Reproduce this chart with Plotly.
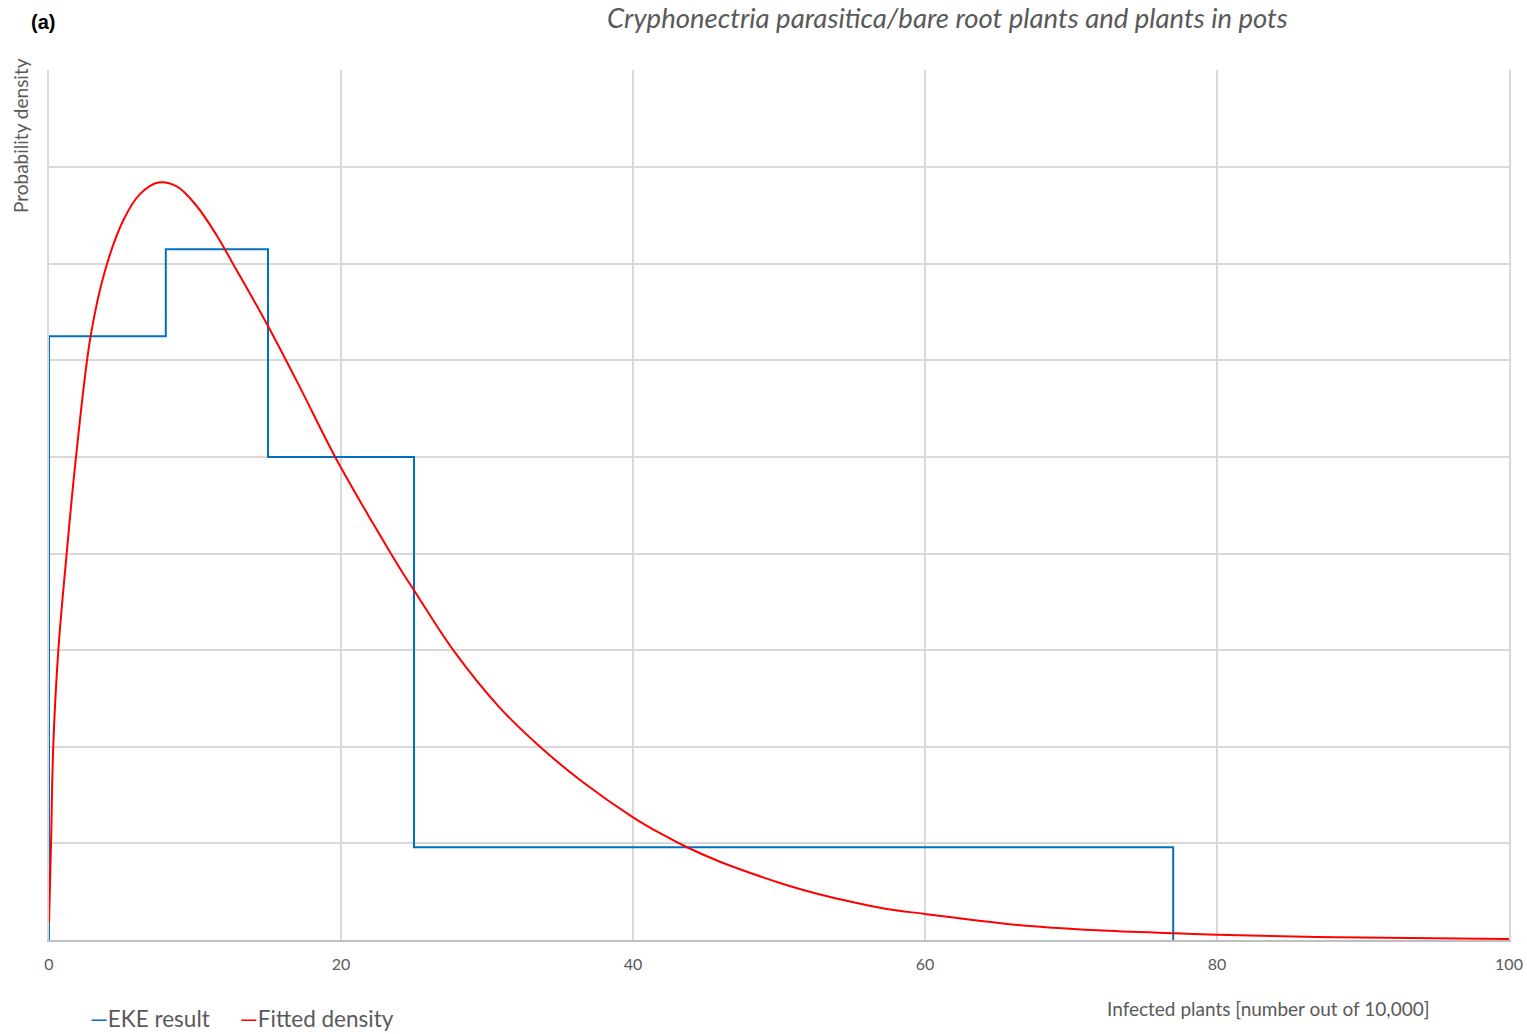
import plotly.graph_objects as go

# EKE result (step histogram): bin edges and density heights
eke_edges = [0, 8, 15, 25, 77]
eke_heights = [6.25, 7.15, 5.0, 0.96]

# Fitted density
fit_x = [0, 0.14, 0.29, 0.64, 1.21, 1.85, 2.85, 3.84, 5.09, 6.23, 7.49, 8.75,
         10.1, 11.5, 12.6, 14.98, 17.19, 19.6, 22.2, 24.04, 25.0, 27.69, 30.9,
         33.63, 36.6, 40.0, 41.85, 43.7, 45.96, 48.24, 50.5, 52.8, 55.1, 57.4,
         60.0, 66.4, 71.8, 77.1, 80.0, 88.2, 100.0]
fit_y = [0.17, 1.0, 2.0, 3.0, 4.0, 5.0, 6.25, 6.93, 7.45, 7.72, 7.84, 7.80,
         7.60, 7.29, 7.0, 6.36, 5.72, 5.0, 4.31, 3.845, 3.62, 3.0, 2.40,
         2.0, 1.63, 1.27, 1.105, 0.96, 0.81, 0.683, 0.569, 0.47, 0.39, 0.32,
         0.27, 0.155, 0.10, 0.069, 0.055, 0.028, 0.01]

x_ticks = [0, 20, 40, 60, 80, 100]

title_text = "Cryphonectria parasitica/bare root plants and plants in pots"
x_title = "Infected plants [number out of 10,000]"
y_title = "Probability density"
panel_label = "(a)"
series_names = ["EKE result", "Fitted density"]
blue = "#0070C0"
red = "#FF0000"
gray_text = "#595959"
grid = "#d9d9d9"
FONT = "Lato, 'Open Sans', sans-serif"

step_x = [eke_edges[0]] + eke_edges
step_y = [0] + eke_heights + [0]

fig = go.Figure()
fig.add_trace(go.Scatter(x=step_x, y=step_y, mode="lines", line_shape="hv",
                         line=dict(color=blue, width=2), name=series_names[0],
                         showlegend=False))
fig.add_trace(go.Scatter(x=fit_x, y=fit_y, mode="lines", line_shape="spline",
                         line=dict(color=red, width=2, smoothing=1.0),
                         name=series_names[1], showlegend=False))

W, H = 1527, 1034
L, R, T, B = 49, 18, 70, 94
pw, ph = W - L - R, H - T - B

def px(xp):
    return (xp - L) / pw

def py(yp):
    return (H - B - yp) / ph

fig.update_layout(
    width=W, height=H,
    margin=dict(l=L, r=R, t=T, b=B),
    plot_bgcolor="white", paper_bgcolor="white",
    font=dict(family=FONT, color=gray_text),
    xaxis=dict(range=[0, 100], tickvals=x_ticks, showgrid=True,
               gridcolor=grid, gridwidth=1.5, zeroline=False,
               showline=True, linecolor="#bfbfbf", linewidth=1.5,
               tickfont=dict(size=16, color=gray_text), ticks="",
               ticklabelstandoff=9, automargin=False),
    yaxis=dict(range=[0, 9.005], tickvals=[1, 2, 3, 4, 5, 6, 7, 8, 9], showgrid=True,
               gridcolor=grid, gridwidth=1.5, zeroline=False, showticklabels=False,
               showline=True, mirror=True, linecolor=grid, linewidth=1.5,
               ticks="", automargin=False),
    showlegend=False,
)

annotations = [
    dict(text="<i>" + title_text + "</i>", x=px(947), y=py(17), xref="paper", yref="paper",
         showarrow=False, font=dict(size=27.5, color=gray_text, family=FONT),
         xanchor="center", yanchor="middle"),
    dict(text="<b>" + panel_label + "</b>", x=px(29), y=py(22), xref="paper", yref="paper",
         showarrow=False, font=dict(size=20, color="black", family="Liberation Sans, Arial"),
         xanchor="left", yanchor="middle"),
    dict(text=y_title, x=px(20), y=py(136), xref="paper", yref="paper",
         showarrow=False, textangle=-90, font=dict(size=19, color=gray_text, family=FONT),
         xanchor="center", yanchor="middle"),
    dict(text=x_title, x=px(1268), y=py(1008), xref="paper", yref="paper",
         showarrow=False, font=dict(size=19, color=gray_text, family=FONT),
         xanchor="center", yanchor="middle"),
    dict(text="<span style='color:%s'>—</span>%s" % (blue, series_names[0]),
         x=px(88), y=py(1018), xref="paper", yref="paper", showarrow=False,
         font=dict(size=22.5, color=gray_text, family=FONT), xanchor="left", yanchor="middle"),
    dict(text="<span style='color:%s'>—</span>%s" % (red, series_names[1]),
         x=px(238), y=py(1018), xref="paper", yref="paper", showarrow=False,
         font=dict(size=22.5, color=gray_text, family=FONT), xanchor="left", yanchor="middle"),
]
fig.update_layout(annotations=annotations)

fig.write_html("out.html")
